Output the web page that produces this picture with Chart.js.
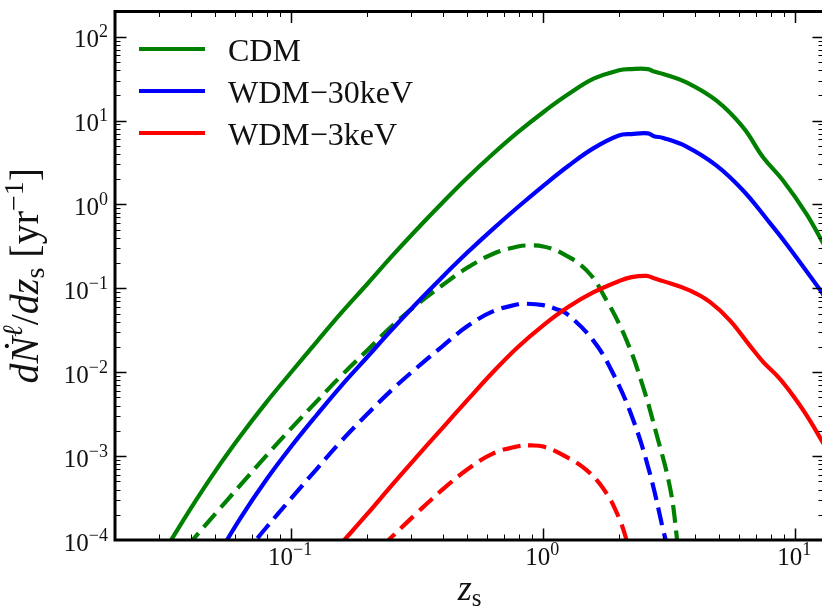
<!DOCTYPE html>
<html>
<head>
<meta charset="utf-8">
<script src="https://cdn.jsdelivr.net/npm/chart.js@4.4.1/dist/chart.umd.min.js"></script>
<style>
    html, body { margin: 0; padding: 0; background: #fff; overflow: hidden; }
    canvas { display: block; }
</style>
</head>
<body>
<canvas id="lensing-chart" width="830" height="608" style="width:830px;height:608px"></canvas>
<script>
// source redshift grids and rates (yr^-1)
const zCdm = [0.0316, 0.0398, 0.0501, 0.0631, 0.0794, 0.1, 0.126, 0.158, 0.2, 0.251, 0.316, 0.398, 0.501, 0.631, 0.794, 1.0, 1.26, 1.585, 1.995, 2.24, 2.6, 2.75, 2.99, 3.7, 4.87, 6.21, 7.45, 8.94, 11.07, 13];
const cdmSolid = [7.6e-5, 2.34e-4, 6.68e-4, 1.76e-3, 4.32e-3, 1.0e-2, 2.29e-2, 5.1e-2, 0.112, 0.242, 0.511, 1.05, 2.10, 4.0, 7.28, 12.6, 20.7, 31.6, 39.8, 41.2, 41.2, 38.5, 36.0, 28.6, 17.3, 8.32, 3.66, 1.93, 0.774, 0.331];

const zWdm30 = [0.0501, 0.0631, 0.0794, 0.1, 0.126, 0.158, 0.2, 0.251, 0.316, 0.398, 0.501, 0.631, 0.794, 1.0, 1.26, 1.585, 1.995, 2.24, 2.6, 2.75, 2.99, 3.7, 4.87, 6.21, 7.69, 9.22, 12.7, 13];
const wdm30Solid = [5.9e-5, 1.85e-4, 5.15e-4, 1.3e-3, 3.07e-3, 6.9e-3, 1.51e-2, 3.23e-2, 6.75e-2, 0.137, 0.269, 0.509, 0.933, 1.67, 2.90, 4.70, 6.65, 6.92, 7.06, 6.53, 6.22, 4.90, 2.91, 1.47, 0.676, 0.339, 0.0912, 0.0813];

const zWdm3 = [0.15, 0.158, 0.2, 0.251, 0.316, 0.398, 0.501, 0.631, 0.794, 1.0, 1.26, 1.585, 1.995, 2.24, 2.57, 2.75, 2.99, 3.81, 4.58, 5.5, 6.59, 7.45, 8.67, 10.1, 11.4, 12.7, 13];
const wdm3Solid = [7.6e-5, 9.1e-5, 2.03e-4, 4.52e-4, 9.94e-4, 2.16e-3, 4.68e-3, 1.0e-2, 2.0e-2, 3.63e-2, 6.03e-2, 9.0e-2, 0.122, 0.136, 0.141, 0.132, 0.122, 9.46e-2, 6.9e-2, 4.16e-2, 2.09e-2, 1.33e-2, 8.4e-3, 4.64e-3, 2.69e-3, 1.55e-3, 1.38e-3];

// dashed curves
const zCdmDash = [0.0385, 0.0398, 0.0501, 0.0631, 0.0794, 0.1, 0.126, 0.158, 0.2, 0.251, 0.316, 0.398, 0.501, 0.631, 0.794, 0.886, 1.0, 1.164, 1.486, 1.783, 2.141, 2.49, 2.81, 3.18, 3.38, 3.45];
const cdmDashed = [8.3e-5, 9.3e-5, 2.07e-4, 4.57e-4, 1.0e-3, 2.14e-3, 4.47e-3, 9.1e-3, 1.82e-2, 3.56e-2, 6.43e-2, 0.109, 0.177, 0.257, 0.316, 0.325, 0.316, 0.270, 0.164, 7.2e-2, 2.4e-2, 6.7e-3, 1.86e-3, 4.3e-4, 1.15e-4, 5.0e-5];

const zWdm30Dash = [0.0631, 0.0725, 0.0794, 0.1, 0.126, 0.158, 0.2, 0.251, 0.316, 0.398, 0.501, 0.631, 0.794, 0.833, 1.0, 1.122, 1.238, 1.578, 1.895, 2.275, 2.65, 2.99, 3.08, 3.15];
const wdm30Dashed = [6.0e-5, 1.0e-4, 1.39e-4, 3.13e-4, 6.97e-4, 1.51e-3, 3.15e-3, 6.17e-3, 1.14e-2, 2.04e-2, 3.55e-2, 5.31e-2, 6.46e-2, 6.58e-2, 6.31e-2, 5.69e-2, 5.0e-2, 2.4e-2, 9.6e-3, 2.7e-3, 6.2e-4, 1.32e-4, 8.9e-5, 4.0e-5];

const zWdm3Dash = [0.229, 0.251, 0.316, 0.398, 0.501, 0.631, 0.794, 0.9, 1.0, 1.164, 1.486, 1.783, 2.014, 2.14, 2.2];
const wdm3Dashed = [8.3e-5, 1.09e-4, 2.11e-4, 3.98e-4, 6.98e-4, 1.07e-3, 1.31e-3, 1.34e-3, 1.30e-3, 1.08e-3, 6.8e-4, 3.6e-4, 1.73e-4, 1.0e-4, 7.1e-5];

const legendLabels = ['CDM', 'WDM\u221230keV', 'WDM\u22123keV'];
const legendColors = ['#008000', '#0000ff', '#ff0000'];

const xMajorTicks = [0.1, 1, 10];
const yMajorTicks = [1e-4, 1e-3, 1e-2, 1e-1, 1, 10, 100];

const SERIF = '"Liberation Serif", "DejaVu Serif", serif';

function toPoints(xs, ys) {
    return xs.map((x, i) => ({ x: x, y: ys[i] }));
}

function makeDataset(xs, ys, color, dashed, order) {
    return {
        data: toPoints(xs, ys),
        borderColor: color,
        borderWidth: 4.2,
        borderDash: dashed ? [18, 8] : [],
        pointRadius: 0,
        fill: false,
        tension: 0.4,
        clip: 0,
        order: order
    };
}

function drawRuns(ctx, runs, x, y, align) {
    let total = 0;
    runs.forEach((r) => { ctx.font = r[1]; total += ctx.measureText(r[0]).width; });
    let cx = x;
    if (align === 'center') cx = x - total / 2;
    if (align === 'right') cx = x - total;
    runs.forEach((r) => {
        ctx.font = r[1];
        ctx.fillText(r[0], cx, y + r[2]);
        cx += ctx.measureText(r[0]).width;
    });
}

function powerLabel(v) {
    const p = Math.round(Math.log10(v));
    return [['10', '25px ' + SERIF, 0], [(p < 0 ? '\u2212' : '') + Math.abs(p), '18px ' + SERIF, -10]];
}

function tickValues(min, max) {
    const out = [];
    for (let n = -5; n <= 3; n++) {
        for (let k = 1; k <= 9; k++) {
            const v = k * Math.pow(10, n);
            if (v > min * 1.0001 && v < max * 0.9999) out.push({ v: v, major: k === 1 });
        }
    }
    return out;
}

const axesPlugin = {
    id: 'axesPlugin',
    afterDatasetsDraw(chart) {
        const ctx = chart.ctx;
        const area = chart.chartArea;
        const xs = chart.scales.x;
        const ys = chart.scales.y;
        ctx.save();

        // inward ticks on all four sides
        ctx.strokeStyle = '#000';
        tickValues(xs.min, xs.max).forEach((t) => {
            const px = Math.round(xs.getPixelForValue(t.v)) + 0.5;
            const len = t.major ? 11.5 : 5.5;
            ctx.lineWidth = t.major ? 1.5 : 1;
            ctx.beginPath();
            ctx.moveTo(px, area.bottom); ctx.lineTo(px, area.bottom - len);
            ctx.moveTo(px, area.top); ctx.lineTo(px, area.top + len);
            ctx.stroke();
        });
        tickValues(ys.min, ys.max).forEach((t) => {
            const py = Math.round(ys.getPixelForValue(t.v)) + 0.5;
            const len = t.major ? 11.5 : 5.5;
            ctx.lineWidth = t.major ? 1.5 : 1;
            ctx.beginPath();
            ctx.moveTo(area.left, py); ctx.lineTo(area.left + len, py);
            ctx.moveTo(area.right, py); ctx.lineTo(area.right - len, py);
            ctx.stroke();
        });

        // frame
        ctx.lineWidth = 3;
        ctx.strokeRect(area.left, area.top, area.right - area.left, area.bottom - area.top);

        // tick labels
        ctx.fillStyle = '#111';
        ctx.textBaseline = 'alphabetic';
        ctx.textAlign = 'left';
        xMajorTicks.forEach((v) => {
            drawRuns(ctx, powerLabel(v), xs.getPixelForValue(v) - 1, area.bottom + 25, 'center');
        });
        yMajorTicks.forEach((v) => {
            drawRuns(ctx, powerLabel(v), area.left - 7, ys.getPixelForValue(v) + 10.5, 'right');
        });

        // axis titles
        const it = 'italic 40px ' + SERIF;
        const rm = '40px ' + SERIF;
        const sm = '28px ' + SERIF;
        drawRuns(ctx, [['z', 'italic 36px ' + SERIF, 0], ['s', '25px ' + SERIF, 6]], (area.left + area.right) / 2, 600, 'center');

        ctx.save();
        ctx.translate(38, (area.top + area.bottom) / 2);
        ctx.rotate(-Math.PI / 2);
        drawRuns(ctx, [
            ['d', it, 0], ['\u1E44', it, 0], ['\u2113', 'italic 28px ' + SERIF, -16],
            ['/', rm, 0], ['d', it, 0], ['z', it, 0], ['s', sm, 6],
            [' [yr', rm, 0], ['\u22121', sm, -15], [']', rm, 0]
        ], 0, 0, 'center');
        ctx.restore();

        // legend (solid lines only)
        legendLabels.forEach((label, i) => {
            const y = 49 + i * 42;
            ctx.strokeStyle = legendColors[i];
            ctx.lineWidth = 4.2;
            ctx.setLineDash([]);
            ctx.beginPath();
            ctx.moveTo(139, y); ctx.lineTo(205, y);
            ctx.stroke();
            ctx.font = '32px ' + SERIF;
            ctx.fillStyle = '#111';
            ctx.fillText(label, 228, y + 12);
        });

        ctx.restore();
    }
};

function createChart() {
    const canvas = document.getElementById('lensing-chart');
    const datasets = [
        makeDataset(zCdm, cdmSolid, '#008000', false, 6),
        makeDataset(zCdmDash, cdmDashed, '#008000', true, 5),
        makeDataset(zWdm30, wdm30Solid, '#0000ff', false, 4),
        makeDataset(zWdm30Dash, wdm30Dashed, '#0000ff', true, 3),
        makeDataset(zWdm3, wdm3Solid, '#ff0000', false, 2),
        makeDataset(zWdm3Dash, wdm3Dashed, '#ff0000', true, 1)
    ];
    const hidden = { ticks: { display: false }, grid: { display: false }, border: { display: false } };
    new Chart(canvas, {
        type: 'line',
        data: { datasets: datasets },
        options: {
            responsive: false,
            animation: false,
            devicePixelRatio: 1,
            layout: { padding: { top: 11.5, right: 6, left: 0, bottom: 0 } },
            plugins: { legend: { display: false }, tooltip: { enabled: false } },
            scales: {
                x: Object.assign({ type: 'logarithmic', min: 0.02, max: 13,
                    afterFit: (s) => { s.height = 68; } }, hidden),
                y: Object.assign({ type: 'logarithmic', min: 1e-4, max: 200,
                    afterFit: (s) => { s.width = 115; } }, hidden)
            }
        },
        plugins: [axesPlugin]
    });
}

createChart();
</script>
</body>
</html>
